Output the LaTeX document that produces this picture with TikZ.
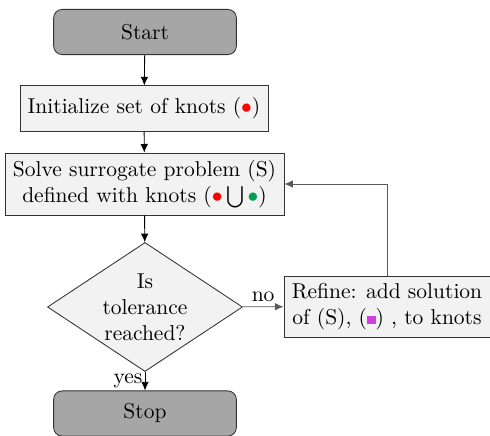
\documentclass[tikz,border=0pt]{standalone}
\usepackage{amsmath,amssymb}
\usetikzlibrary{shapes.geometric,arrows.meta}
\definecolor{knotgreen}{RGB}{0,160,80}
\definecolor{knotpink}{RGB}{210,60,220}
\begin{document}
\begin{tikzpicture}[x=0.465pt,y=-0.465pt,
 term/.style={draw=black!80, fill=gray!70, rounded corners=4pt, minimum width=85pt, minimum height=21pt, inner sep=0pt},
 proc/.style={draw=black!80, fill=gray!10, inner sep=0pt, align=center},
 dec/.style={draw=black!80, fill=gray!10, diamond, aspect=1.5, inner sep=0pt, minimum width=90.7pt, minimum height=60pt, align=center},
 arr/.style={-{Latex[length=4pt,width=3.5pt]}, black},
 garr/.style={-{Latex[length=4pt,width=3.5pt]}, draw=black!65}
]
\useasboundingbox (0,0) rectangle (490,436);
\node[term] (start) at (145,32) {Start};
\node[proc, minimum width=115.3pt, minimum height=21pt] (init) at (144,108.5) {Initialize set of knots (\textcolor{red}{$\bullet$})};
\node[proc, minimum width=129.7pt, minimum height=28.8pt] (solve) at (144.5,184) {Solve surrogate problem (S)\\ defined with knots (\textcolor{red}{$\bullet$}$\,\bigcup\,$\textcolor{knotgreen}{$\bullet$})};
\node[dec] (tol) at (145,307) {Is\\tolerance\\reached?};
\node[proc, minimum width=95.8pt, minimum height=28.4pt] (ref) at (387,306.5) {Refine: add solution\\ of (S), (\textcolor{knotpink}{\rule{4pt}{4pt}}) , to knots};
\node[term] (stop) at (145,413.5) {Stop};
\draw[arr] (start) -- (init);
\draw[arr] (init) -- (solve);
\draw[arr] (solve) -- (tol);
\draw[arr] (tol) -- node[left, inner sep=1pt, text=black]{yes} (stop);
\draw[garr] (tol) -- node[above, inner sep=2pt, text=black]{no} (ref);
\draw[garr] (ref.north) |- (solve.east);
\end{tikzpicture}
\end{document}
